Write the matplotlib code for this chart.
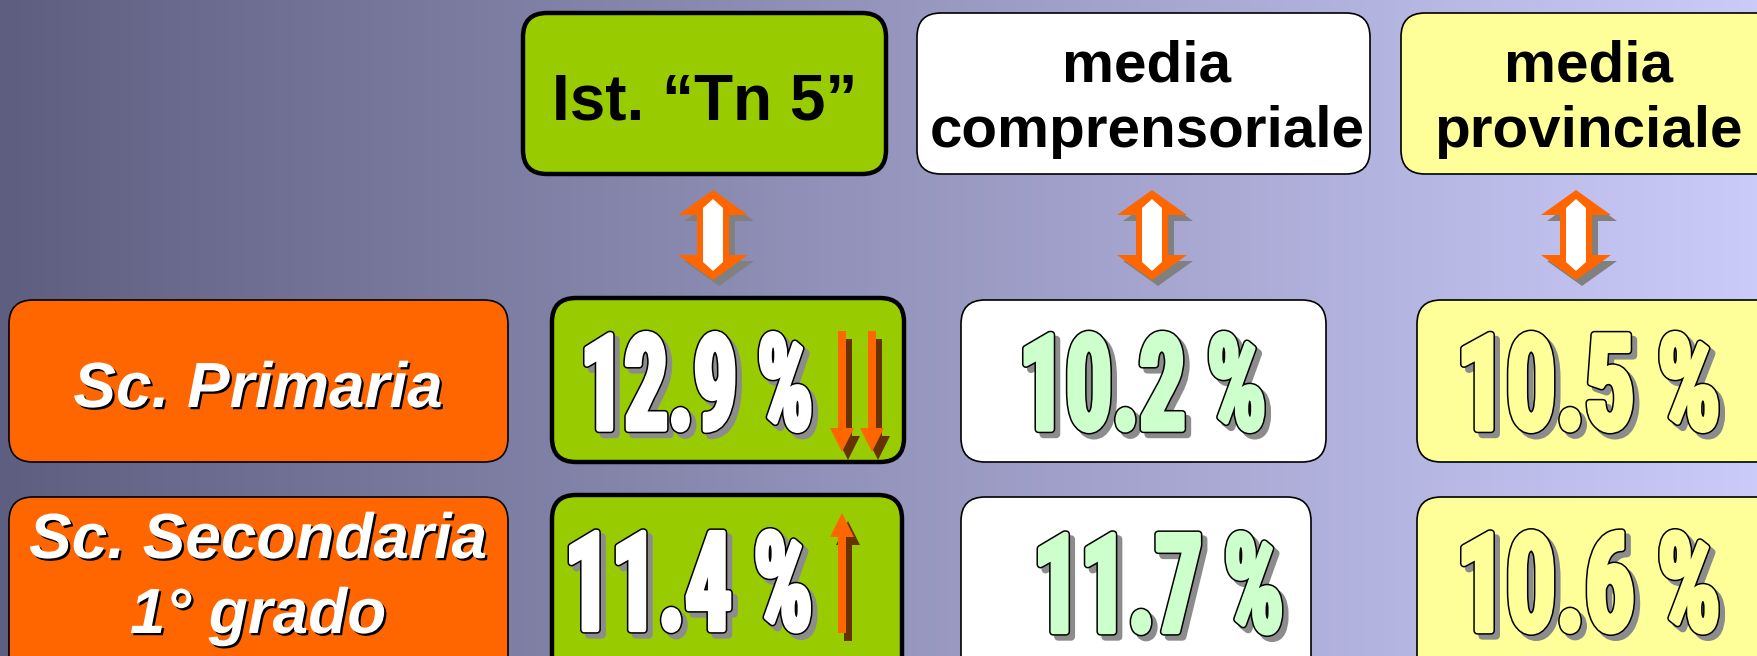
import numpy as np
import matplotlib
matplotlib.use("Agg")
import matplotlib.pyplot as plt
import matplotlib.patheffects as pe
from matplotlib.patches import FancyBboxPatch, PathPatch, Polygon
from matplotlib.textpath import TextPath
from matplotlib.font_manager import FontProperties, fontManager
from matplotlib.transforms import Affine2D

# dati
headers = [["Ist. \u201cTn 5\u201d"], ["media", "comprensoriale"], ["media", "provinciale"]]
rows = [["Sc. Primaria"], ["Sc. Secondaria", "1\u00b0 grado"]]
values = [[12.9, 10.2, 10.5],
          [11.4, 11.7, 10.6]]
trend_dir = [-1, 1]     # freccia giu / su per l'istituto
trend_count = [2, 1]

box_colors = ["#99cc00", "#ffffff", "#ffff99"]
text_colors = ["#ffffff", "#ccffcc", "#ffff99"]
orange = "#ff6600"

# layout (pixel)
W, H = 1757, 656
hdr_x = [(523, 886), (917, 1370), (1401, 1800)]
hdr_cx = [705, 1147, 1588]
hdr_y = (13, 174)
row_y = [(300, 462), (497, 720)]
lab_x = (9, 508)
val_x = [[(552, 904), (961, 1326), (1417, 1800)],
         [(552, 902), (961, 1311), (1417, 1800)]]
txt_c = [[(698, 382), (1144, 382), (1590, 382)],
         [(690, 581), (1160, 583), (1590, 582)]]
txt_w = [[230, 244, 260], [245, 247, 260]]
txt_h = [105, 108]
dbl_x = [713, 1152, 1576]

fig = plt.figure(figsize=(W / 100, H / 100), dpi=100)
ax = fig.add_axes([0, 0, 1, 1])
ax.set_xlim(0, W)
ax.set_ylim(H, 0)
ax.axis("off")

# sfondo sfumato
c0 = np.array([0x5e, 0x5f, 0x80]) / 255
c1 = np.array([0xcb, 0xcb, 0xfa]) / 255
t = np.linspace(0, 1, 400)[None, :, None]
grad = c0 + (c1 - c0) * t
ax.imshow(grad, extent=[0, W, H, 0], aspect="auto", zorder=0)


def box(x0, x1, y0, y1, fc, lw):
    ax.add_patch(FancyBboxPatch((x0, y0), x1 - x0, y1 - y0,
                                boxstyle="round,pad=0,rounding_size=24",
                                fc=fc, ec="black", lw=lw, zorder=2))


# font stretto per i numeri
names = {f.name for f in fontManager.ttflist}
num_family = "DejaVu Sans"
for cand in ["Roboto Condensed", "Liberation Sans Narrow", "DejaVu Sans Condensed"]:
    if cand in names:
        num_family = cand
        break
num_prop = FontProperties(family=num_family, weight="bold")


def big_number(s, cx, cy, w, h, face):
    tp = TextPath((0, 0), s, size=100, prop=num_prop)
    bb = tp.get_extents()
    tr = (Affine2D().translate(-bb.x0 - bb.width / 2, -bb.y0 - bb.height / 2)
          .scale((w - 8) / bb.width, -(h - 8) / bb.height).translate(cx, cy))
    path = tr.transform_path(tp)
    shadow = Affine2D().translate(5, 5).transform_path(path)
    ax.add_patch(PathPatch(shadow, fc="#8c8c8c", ec="#8c8c8c", lw=5.8, joinstyle="round", zorder=3))
    ax.add_patch(PathPatch(path, fc="black", ec="black", lw=5.8, joinstyle="round", zorder=4))
    ax.add_patch(PathPatch(path, fc=face, ec=face, lw=3.6, joinstyle="round", zorder=5))


def double_arrow(cx, y0=190, y1=280):
    outer = [(cx, y0), (cx + 35, y0 + 25), (cx + 16, y0 + 25), (cx + 16, y1 - 25),
             (cx + 35, y1 - 25), (cx, y1), (cx - 35, y1 - 25), (cx - 16, y1 - 25),
             (cx - 16, y0 + 25), (cx - 35, y0 + 25)]
    inner = [(cx, y0 + 9), (cx + 10, y0 + 18), (cx + 10, y1 - 18), (cx, y1 - 9),
             (cx - 10, y1 - 18), (cx - 10, y0 + 18)]
    ax.add_patch(Polygon([(x + 6, y + 6) for x, y in outer], fc="#808080", ec="none", zorder=2))
    ax.add_patch(Polygon(outer, fc=orange, ec="none", zorder=3))
    ax.add_patch(Polygon(inner, fc="white", ec="none", zorder=4))


def thin_arrow(cx, y_tail, y_tip):
    d = 1 if y_tip > y_tail else -1
    hb = y_tip - d * 24
    pts = [(cx - 4, y_tail), (cx + 4, y_tail), (cx + 4, hb), (cx + 12, hb),
           (cx, y_tip), (cx - 12, hb), (cx - 4, hb)]
    ax.add_patch(Polygon([(x + 6, y + 8) for x, y in pts], fc="#663300", ec="none", zorder=6))
    ax.add_patch(Polygon(pts, fc=orange, ec="none", zorder=7))


# intestazioni
hdr_font = dict(family=["Liberation Sans", "DejaVu Sans"], weight="bold", color="black",
                ha="center", va="baseline", zorder=5)
for j, lines in enumerate(headers):
    x0, x1 = hdr_x[j]
    box(x0, x1, hdr_y[0], hdr_y[1], box_colors[j], 3.2 if j == 0 else 1.2)
    if len(lines) == 1:
        ax.text(hdr_cx[j], 120, lines[0], fontsize=46, **hdr_font)
    else:
        for k, ln in enumerate(lines):
            ax.text(hdr_cx[j], 82 + 65 * k, ln, fontsize=42, **hdr_font)
    double_arrow(dbl_x[j])

# righe
lab_base = [[407], [558, 633]]
for i, lines in enumerate(rows):
    y0, y1 = row_y[i]
    box(lab_x[0], lab_x[1], y0, y1, orange, 1.2)
    for k, ln in enumerate(lines):
        ax.text(258, lab_base[i][k], ln, fontsize=46, family=["Liberation Sans", "DejaVu Sans"],
                weight="bold", style="italic", color="white", ha="center", va="baseline", zorder=5,
                path_effects=[pe.withSimplePatchShadow(offset=(1.6, -1.6), shadow_rgbFace="black", alpha=1)])
    for j, v in enumerate(values[i]):
        x0, x1 = val_x[i][j]
        box(x0, x1, y0 - (2 if j == 0 else 0), y1, box_colors[j], 3.2 if j == 0 else 1.2)
        cx, cy = txt_c[i][j]
        big_number(f"{v:.1f} %", cx, cy, txt_w[i][j], txt_h[i], text_colors[j])
    # frecce di tendenza
    for k in range(trend_count[i]):
        ax_x = 842 + 30 * k
        if trend_dir[i] < 0:
            thin_arrow(ax_x, 331, 452)
        else:
            thin_arrow(ax_x, 633, 513)

fig.savefig("out.png", dpi=100)
